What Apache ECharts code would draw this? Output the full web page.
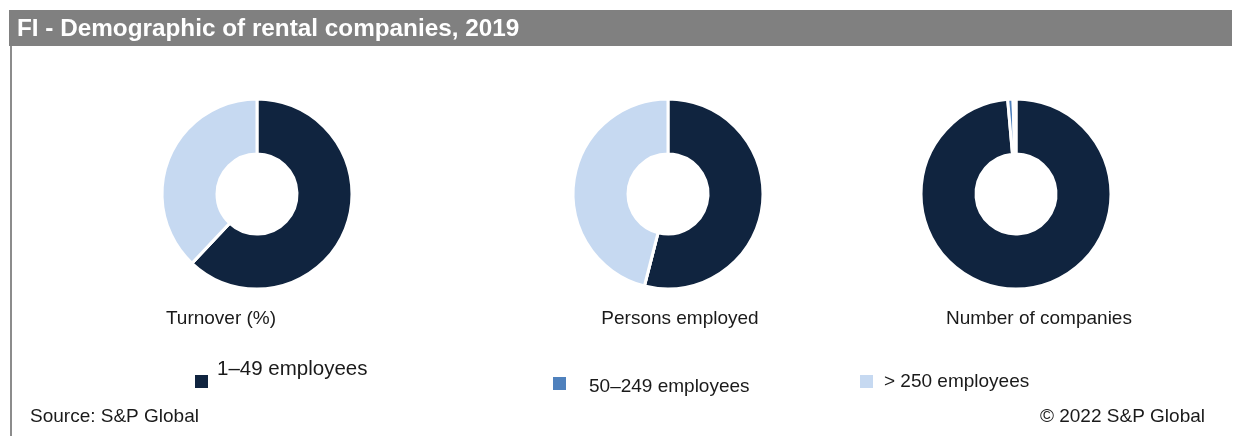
<!DOCTYPE html>
<html>
<head>
<meta charset="utf-8">
<script src="https://cdn.jsdelivr.net/npm/echarts@6/dist/echarts.min.js"></script>
<style>
  html, body { margin: 0; padding: 0; background: #ffffff; }
  #chart { width: 1235px; height: 436px; }
</style>
</head>
<body>
<div id="chart"></div>
<script>
// Size bands (company size by number of employees)
const sizeBands = ['1–49 employees', '50–249 employees', '> 250 employees'];

// Share of each size band, in percent
const turnoverShare = [62, 0, 38];
const personsShare = [54, 0, 46];
const companiesShare = [98.6, 0.9, 0.5];

const pieTitles = ['Turnover (%)', 'Persons employed', 'Number of companies'];

const bandColors = ['#10243f', '#4f81bd', '#c6d9f1'];
const FONT = '"Liberation Sans", Arial, sans-serif';

function toData(values) {
  return sizeBands.map((name, i) => ({ name: name, value: values[i] }));
}

function donut(center, values) {
  return {
    type: 'pie',
    center: center,
    radius: [40, 95],
    startAngle: 90,
    clockwise: true,
    avoidLabelOverlap: false,
    silent: true,
    label: { show: false },
    labelLine: { show: false },
    itemStyle: { borderColor: '#ffffff', borderWidth: 3 },
    data: toData(values)
  };
}

// One legend block per band; the label is nudged with a rich-text box
function legendItem(idx, left, top, fontSize, textPad) {
  return {
    show: true,
    left: left,
    top: top,
    orient: 'horizontal',
    itemWidth: 13,
    itemHeight: 13,
    icon: 'rect',
    selectedMode: false,
    padding: 0,
    itemStyle: { borderWidth: 0 },
    data: [sizeBands[idx]],
    formatter: '{t|{name}}',
    textStyle: {
      fontFamily: FONT,
      fontSize: fontSize,
      color: '#1a1a1a',
      rich: {
        t: { fontFamily: FONT, fontSize: fontSize, color: '#1a1a1a', padding: textPad }
      }
    }
  };
}

const chart = echarts.init(document.getElementById('chart'), null, { renderer: 'canvas' });

chart.setOption({
  animation: false,
  backgroundColor: '#ffffff',
  color: bandColors,
  graphic: [
    { type: 'rect', shape: { x: 9, y: 10, width: 1223, height: 36 }, style: { fill: '#808080' }, silent: true },
    { type: 'rect', shape: { x: 10, y: 46, width: 2, height: 390 }, style: { fill: '#8c8c8c' }, silent: true }
  ],
  title: [
    { text: 'FI - Demographic of rental companies, 2019', left: 17, top: 17, padding: 0,
      textStyle: { fontFamily: FONT, fontSize: 24.3, fontWeight: 'bold', color: '#ffffff' } },
    { text: pieTitles[0], left: 221, top: 309, textAlign: 'center', padding: 0,
      textStyle: { fontFamily: FONT, fontSize: 19, fontWeight: 'normal', color: '#1a1a1a' } },
    { text: pieTitles[1], left: 680, top: 309, textAlign: 'center', padding: 0,
      textStyle: { fontFamily: FONT, fontSize: 19, fontWeight: 'normal', color: '#1a1a1a' } },
    { text: pieTitles[2], left: 1039, top: 309, textAlign: 'center', padding: 0,
      textStyle: { fontFamily: FONT, fontSize: 19, fontWeight: 'normal', color: '#1a1a1a' } },
    { text: 'Source: S&P Global', left: 30, top: 407, padding: 0,
      textStyle: { fontFamily: FONT, fontSize: 19, fontWeight: 'normal', color: '#1a1a1a' } },
    { text: '© 2022 S&P Global', right: 30, top: 407, padding: 0,
      textStyle: { fontFamily: FONT, fontSize: 19, fontWeight: 'normal', color: '#1a1a1a' } }
  ],
  legend: [
    legendItem(0, 195, 359, 20.5, [0, 0, 24, 4]),
    legendItem(1, 553, 377, 19, [6, 0, 0, 18]),
    legendItem(2, 860, 372, 19, [0, 0, 0, 6])
  ],
  series: [
    donut([257, 194], turnoverShare),
    donut([668, 194], personsShare),
    donut([1016, 194], companiesShare)
  ]
});
</script>
</body>
</html>
